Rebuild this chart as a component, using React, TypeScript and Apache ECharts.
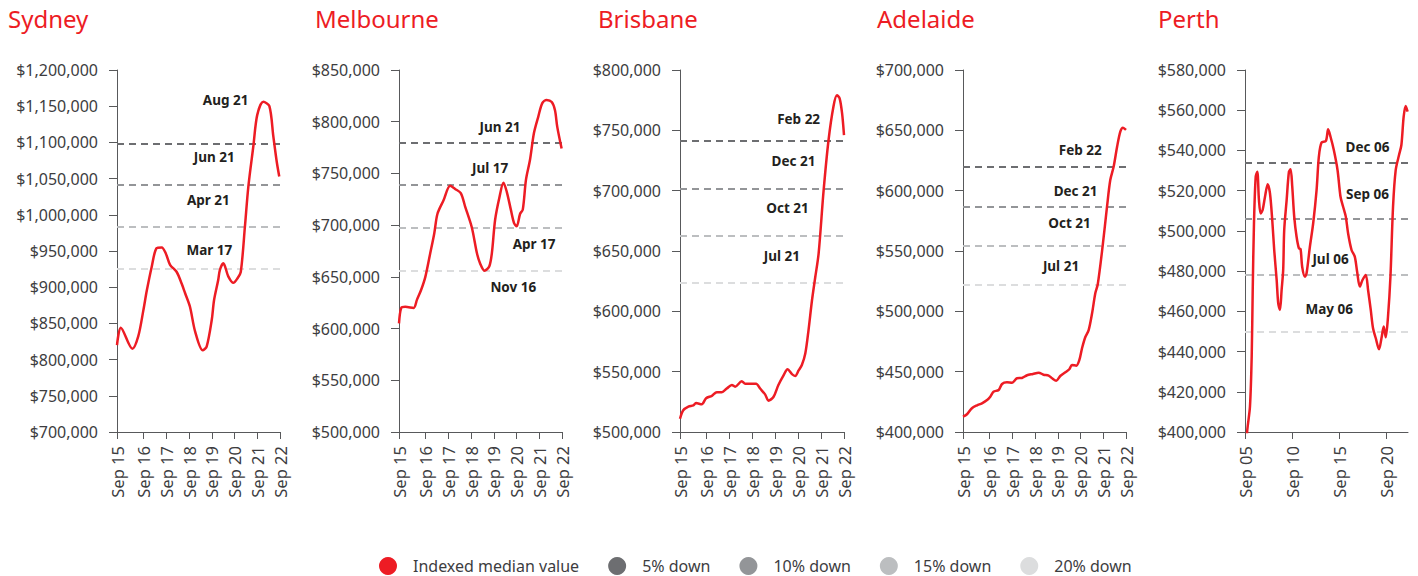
import React, { useEffect, useRef } from 'react';
import * as echarts from 'echarts';

const FONT = '"Noto Sans", sans-serif';
const RED = '#ed1c24';
const AXIS = '#58595b';
const LABEL = '#3d3d3f';
const NOTE = '#231f20';

const SERIES_NAME = 'Indexed median value';
const LEVEL_NAMES = ['5% down', '10% down', '15% down', '20% down'];
const LEVEL_COLORS = ['#6d6e71', '#939598', '#bcbec0', '#dcddde'];

// x values are months from the axis start
const shortTickMonths = [0, 14, 26, 38, 50, 62, 74, 86];
const shortTickLabels = ['Sep 15', 'Sep 16', 'Sep 17', 'Sep 18', 'Sep 19', 'Sep 20', 'Sep 21', 'Sep 22'];
const perthTickMonths = [0, 60, 120, 180];
const perthTickLabels = ['Sep 05', 'Sep 10', 'Sep 15', 'Sep 20'];

// Sydney
const sydneyMonths = [0, 2, 8.1, 11.2, 13.9, 15.7, 18.3, 20.9, 23.6, 25.7, 28, 31.5, 34.1, 35.9, 38.5, 41.2, 45.2, 47.3, 50, 51.2, 53.4, 54.3, 56.1, 58.7, 61.4, 63.5, 65.3, 67.5, 69.3, 71.9, 74, 77.2, 80.4, 82.5, 84.3, 85.6];
const sydneyValuesK = [820, 844, 815, 832, 868, 895, 928, 954, 955, 947, 931, 921, 905, 892, 873, 839, 813, 818, 855, 882, 910, 924, 933, 915, 906, 912, 921, 984, 1039, 1094, 1138, 1156, 1150, 1108, 1073, 1053];
const sydneyLevels = [1098000, 1041000, 983000, 926000];
const sydneyNotes = ['Aug 21', 'Jun 21', 'Apr 21', 'Mar 17'];
const sydneyNoteAnchors = [[57.3, 1159000], [51.3, 1080000], [48.2, 1021000], [48.7, 951000]];

// Melbourne
const melbourneMonths = [0, 1.2, 3.3, 7.7, 9.5, 11.6, 13.9, 16.5, 18.6, 20.3, 23.5, 27, 29.6, 32.6, 34.9, 38.4, 41.1, 42.8, 45.1, 47.6, 49, 50.7, 53, 55.1, 56.9, 59, 60.7, 62.1, 63.9, 65.3, 67, 69.1, 71.2, 73.5, 75.6, 77.9, 80.6, 82.3, 83.5, 85.8];
const melbourneValuesK = [605, 620, 621, 620, 628, 637, 650, 673, 692, 711, 724, 738, 735, 731, 718, 698, 673, 663, 656, 660, 673, 705, 727, 741, 732, 715, 702, 699, 711, 715, 744, 763, 789, 805, 818, 821, 819, 811, 795, 774];
const melbourneLevels = [780000, 739000, 697000, 656000];
const melbourneNotes = ['Jun 21', 'Jul 17', 'Apr 17', 'Nov 16'];
const melbourneNoteAnchors = [[53.3, 795000], [48.1, 755000], [71.3, 681500], [60.3, 640000]];

// Brisbane
const brisbaneMonths = [0, 1.7, 4.4, 7, 8.4, 11.4, 13.7, 16.7, 19.3, 21.9, 24.5, 27.2, 28.9, 32.4, 34.2, 37.7, 39.9, 42, 44.7, 46.4, 49, 51.6, 54.3, 56.4, 58.7, 60.4, 62.2, 63.9, 65.7, 67.4, 69.2, 70.9, 72.7, 75.3, 77.9, 80.5, 82.3, 83.7, 85, 86];
const brisbaneValuesK = [511, 518, 521, 522, 524, 523, 528, 530, 533, 533, 536, 539, 537.5, 542, 540, 540, 540, 536, 531, 526, 529, 539, 547, 552, 548, 546.5, 551, 555.5, 565, 584.5, 609, 628, 648, 700, 742, 770, 779, 776.5, 764, 746];
const brisbaneLevels = [741000, 702000, 663000, 624000];
const brisbaneNotes = ['Feb 22', 'Dec 21', 'Oct 21', 'Jul 21'];
const brisbaneNoteAnchors = [[62.2, 759400], [59.5, 724300], [56.4, 685400], [53.4, 646000]];

// Adelaide
const adelaideMonths = [0, 2.1, 4.7, 7.4, 10, 12.7, 14.4, 16.1, 18.8, 20.6, 23.2, 25.9, 28.5, 31.1, 33.8, 36.9, 39.9, 42.5, 45.2, 47, 49.2, 51.3, 54, 56.1, 57.5, 59.8, 61.4, 62.8, 64.5, 66.3, 68.1, 69.8, 71.1, 73.7, 76, 77.7, 79.5, 81.3, 83, 84.4, 86];
const adelaideValuesK = [412.7, 414.7, 419.7, 422.1, 423.8, 426.5, 429.3, 433.4, 434.8, 439.8, 441.2, 440.9, 444.5, 444.8, 447, 448.1, 449.2, 447.5, 446.7, 444.5, 442.5, 446.4, 449.5, 452, 455.5, 455, 459.7, 469.4, 478.5, 484.5, 498.4, 515, 522.4, 554.4, 587, 608.8, 620, 636.4, 649, 652.2, 650.3];
const adelaideLevels = [620000, 587000, 554000, 522000];
const adelaideNotes = ['Feb 22', 'Dec 21', 'Oct 21', 'Jul 21'];
const adelaideNoteAnchors = [[61.9, 633700], [59.4, 599700], [56.2, 573500], [51.7, 537600]];

// Perth
const perthMonths = [1.5, 2.9, 6.3, 8.5, 9.8, 11.4, 13.6, 15.6, 17.7, 19.9, 22.4, 25.4, 28.8, 31.7, 34.6, 37.1, 40.2, 42.2, 44.4, 46.5, 48.5, 49.8, 52.9, 55.8, 57.9, 60, 62.5, 65.5, 68.5, 70.6, 72.6, 76.1, 78.2, 82.4, 86.6, 90.9, 93.8, 97.2, 102.7, 105.6, 108.6, 112.8, 117.5, 121.3, 124.6, 128, 130.9, 135.3, 139.4, 142.4, 145.8, 149.2, 153.4, 156.3, 159.7, 162.6, 166.1, 170.2, 173.3, 176.2, 178.7, 181.6, 184.7, 188, 191.4, 195.6, 198.6, 201.5, 204.1, 206.5];
const perthValuesK = [392, 401, 412.6, 437.5, 470.6, 503.8, 527, 529.4, 515.4, 508.7, 510.4, 517, 523.2, 518.7, 505.4, 490.5, 475.6, 464, 460.7, 470.6, 480.6, 500.4, 515.4, 529.4, 530.6, 522, 507.1, 497.1, 491.3, 490.9, 482.2, 477.2, 478.9, 492.1, 503.8, 520.3, 536.9, 543.9, 544.7, 550.5, 546.8, 540.2, 530.3, 517, 512, 507.1, 498.8, 490.5, 487.2, 479.7, 472.3, 475.6, 478.1, 470.6, 460.7, 451.6, 446.6, 441.1, 446.6, 452.4, 447.1, 457.3, 477.2, 512, 530.3, 537.7, 542.7, 556.8, 562.1, 559.3];
const perthLevels = [534000, 506000, 478000, 450000];
const perthNotes = ['Dec 06', 'Sep 06', 'Jul 06', 'May 06'];
const perthNoteAnchors = [[155.5, 541600], [155.5, 518200], [108.6, 485900], [106.9, 461000]];

const cities = [
  { title: 'Sydney', titleLeft: 8, left: 117, width: 163, months: sydneyMonths, valuesK: sydneyValuesK, levels: sydneyLevels, notes: sydneyNotes, anchors: sydneyNoteAnchors, yMin: 700000, yMax: 1200000, yInterval: 50000, xMax: 86, ticks: shortTickMonths, tickLabels: shortTickLabels },
  { title: 'Melbourne', titleLeft: 315, left: 399, width: 163, months: melbourneMonths, valuesK: melbourneValuesK, levels: melbourneLevels, notes: melbourneNotes, anchors: melbourneNoteAnchors, yMin: 500000, yMax: 850000, yInterval: 50000, xMax: 86, ticks: shortTickMonths, tickLabels: shortTickLabels },
  { title: 'Brisbane', titleLeft: 598, left: 680, width: 164, months: brisbaneMonths, valuesK: brisbaneValuesK, levels: brisbaneLevels, notes: brisbaneNotes, anchors: brisbaneNoteAnchors, yMin: 500000, yMax: 800000, yInterval: 50000, xMax: 86, ticks: shortTickMonths, tickLabels: shortTickLabels },
  { title: 'Adelaide', titleLeft: 877, left: 963, width: 163, months: adelaideMonths, valuesK: adelaideValuesK, levels: adelaideLevels, notes: adelaideNotes, anchors: adelaideNoteAnchors, yMin: 400000, yMax: 700000, yInterval: 50000, xMax: 86, ticks: shortTickMonths, tickLabels: shortTickLabels },
  { title: 'Perth', titleLeft: 1158, left: 1245, width: 163, months: perthMonths, valuesK: perthValuesK, levels: perthLevels, notes: perthNotes, anchors: perthNoteAnchors, yMin: 400000, yMax: 580000, yInterval: 20000, xMax: 207, ticks: perthTickMonths, tickLabels: perthTickLabels },
];

export default function App() {
  const ref = useRef<HTMLDivElement>(null);
  useEffect(() => {
    document.body.style.margin = '0';
    if (!ref.current) return;
    const chart = echarts.init(ref.current, null, { renderer: 'svg' });
    const grid: any[] = [];
    const xAxis: any[] = [];
    const yAxis: any[] = [];
    const series: any[] = [];
    const title: any[] = [];
    cities.forEach((c, i) => {
      title.push({
        text: c.title, left: c.titleLeft, top: 6, padding: 0,
        textStyle: { color: RED, fontSize: 24, fontWeight: 'normal', fontFamily: FONT },
      });
      grid.push({ left: c.left, top: 70, width: c.width, height: 362 });
      xAxis.push({
        type: 'value', gridIndex: i, min: 0, max: c.xMax,
        axisLine: { show: true, onZero: false, lineStyle: { color: AXIS, width: 1 } },
        axisTick: { show: true, length: 7, customValues: c.ticks, lineStyle: { color: AXIS } },
        axisLabel: {
          customValues: c.ticks, rotate: 90, margin: 14, fontSize: 16.5, color: LABEL, fontFamily: FONT,
          formatter: (v: number) => { const k = c.ticks.indexOf(v); return k >= 0 ? c.tickLabels[k] : ''; },
        },
        splitLine: { show: false },
      });
      yAxis.push({
        type: 'value', gridIndex: i, min: c.yMin, max: c.yMax, interval: c.yInterval,
        axisLine: { show: true, onZero: false, lineStyle: { color: AXIS, width: 1 } },
        axisTick: { show: true, length: 8, lineStyle: { color: AXIS } },
        axisLabel: {
          margin: 19, fontSize: 16, color: LABEL, fontFamily: FONT,
          formatter: (v: number) => '$' + v.toLocaleString('en-US'),
        },
        splitLine: { show: false },
      });
      c.levels.forEach((lv, j) => {
        series.push({
          type: 'line', name: LEVEL_NAMES[j], xAxisIndex: i, yAxisIndex: i, data: [],
          color: LEVEL_COLORS[j],
          markLine: {
            silent: true, symbol: ['none', 'none'], label: { show: false },
            lineStyle: { color: LEVEL_COLORS[j], type: [7, 5], width: 2 },
            emphasis: { disabled: true },
            data: [{ yAxis: lv }],
          },
        });
      });
      series.push({
        type: 'line', name: SERIES_NAME, xAxisIndex: i, yAxisIndex: i,
        data: c.months.map((m, k) => [m, c.valuesK[k] * 1000]),
        color: RED, symbol: 'none', showSymbol: false, smooth: 0.3, z: 5,
        lineStyle: { color: RED, width: 2.5 },
        markPoint: {
          silent: true, symbol: 'circle', symbolSize: 1,
          itemStyle: { color: 'rgba(0,0,0,0)' },
          label: { show: true, position: 'inside', formatter: '{b}', color: NOTE, fontSize: 13.5, fontWeight: 'bold', fontFamily: FONT },
          data: c.notes.map((t, k) => ({ name: t, coord: c.anchors[k] })),
        },
      });
    });
    chart.setOption({
      animation: false,
      backgroundColor: '#ffffff',
      textStyle: { fontFamily: FONT },
      title,
      grid,
      xAxis,
      yAxis,
      series,
      legend: {
        data: [SERIES_NAME, ...LEVEL_NAMES],
        left: 379, top: 557, padding: 0, icon: 'circle', itemWidth: 40, itemHeight: 18, itemGap: 29,
        selectedMode: false,
        textStyle: { fontSize: 16, color: LABEL, fontFamily: FONT },
      },
      tooltip: { show: false },
    });
    return () => chart.dispose();
  }, []);
  return (
    <div
      ref={ref}
      style={{ position: 'relative', width: 1418, height: 576, background: '#fff' }}
    />
  );
}
